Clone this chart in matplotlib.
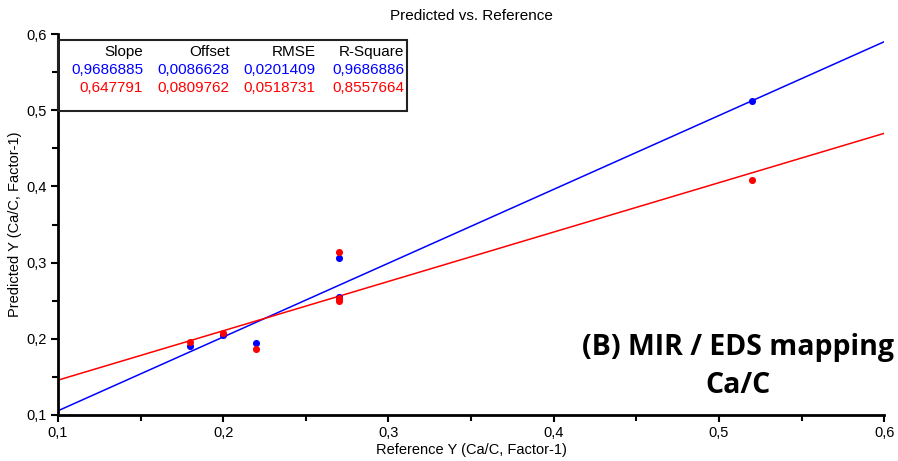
import matplotlib.pyplot as plt
from matplotlib.patches import Rectangle
from matplotlib.ticker import MultipleLocator, FuncFormatter
import numpy as np

plt.rcParams['font.family'] = ['Liberation Sans', 'DejaVu Sans']

# Reference values and predictions
ref_x = [0.18, 0.20, 0.22, 0.27, 0.27, 0.27, 0.52]
pred_blue = [0.191, 0.205, 0.195, 0.306, 0.255, 0.253, 0.512]
pred_red = [0.196, 0.207, 0.187, 0.314, 0.254, 0.250, 0.408]

# Fit statistics from the table
headers = ['Slope', 'Offset', 'RMSE', 'R-Square']
stats_blue = ['0,9686885', '0,0086628', '0,0201409', '0,9686886']
stats_red = ['0,647791', '0,0809762', '0,0518731', '0,8557664']
slope_blue, offset_blue = 0.9686885, 0.0086628
slope_red, offset_red = 0.647791, 0.0809762

fig = plt.figure(figsize=(8.98, 4.61), dpi=100)
ax = fig.add_axes([0.0646, 0.0998, 0.92, 0.8264])

xl = np.array([0.1, 0.6])
ax.plot(xl, slope_blue * xl + offset_blue, color='#0000ff', lw=1.1, zorder=2)
ax.plot(xl, slope_red * xl + offset_red, color='#ff0000', lw=1.1, zorder=2)
ax.scatter(ref_x, pred_blue, s=26, color='#0000ff', zorder=3, linewidths=0)
ax.scatter(ref_x, pred_red, s=26, color='#ff0000', zorder=4, linewidths=0)

ax.set_xlim(0.1, 0.6)
ax.set_ylim(0.1, 0.6)
ax.xaxis.set_major_locator(MultipleLocator(0.1))
ax.xaxis.set_minor_locator(MultipleLocator(0.05))
ax.yaxis.set_major_locator(MultipleLocator(0.1))
ax.yaxis.set_minor_locator(MultipleLocator(0.05))
fmt = FuncFormatter(lambda v, p: f'{v:.1f}'.replace('.', ','))
ax.xaxis.set_major_formatter(fmt)
ax.yaxis.set_major_formatter(fmt)
ax.tick_params(which='major', length=5, width=1.5, labelsize=10.5, direction='out', pad=3)
ax.tick_params(which='minor', length=4, width=1.5, direction='out')
for s in ['top', 'right']:
    ax.spines[s].set_visible(False)
for s in ['left', 'bottom']:
    ax.spines[s].set_linewidth(2)

ax.set_title('Predicted vs. Reference', fontsize=11, pad=10)
ax.set_xlabel('Reference Y (Ca/C, Factor-1)', fontsize=10.5, labelpad=2)
ax.set_ylabel('Predicted Y (Ca/C, Factor-1)', fontsize=10.5, labelpad=3)

# stats table box
ax.add_patch(Rectangle((0, 0.798), 0.4225, 0.186, transform=ax.transAxes,
                       fill=False, ec='#222222', lw=1.5, zorder=5, clip_on=False))
col_x = [0.103, 0.208, 0.312, 0.419]
for i, cx in enumerate(col_x):
    ax.text(cx, 0.953, headers[i], transform=ax.transAxes, ha='right', va='center', fontsize=11, color='black')
    ax.text(cx, 0.906, stats_blue[i], transform=ax.transAxes, ha='right', va='center', fontsize=11, color='#0000ff')
    ax.text(cx, 0.858, stats_red[i], transform=ax.transAxes, ha='right', va='center', fontsize=11, color='#ff0000')

fig.text(0.822, 0.2299, '(B) MIR / EDS mapping', ha='center', va='baseline',
         fontsize=20.5, fontweight='bold', family='Open Sans')
fig.text(0.822, 0.1475, 'Ca/C', ha='center', va='baseline',
         fontsize=20.5, fontweight='bold', family='Open Sans')

fig.savefig('out.png', dpi=100)
